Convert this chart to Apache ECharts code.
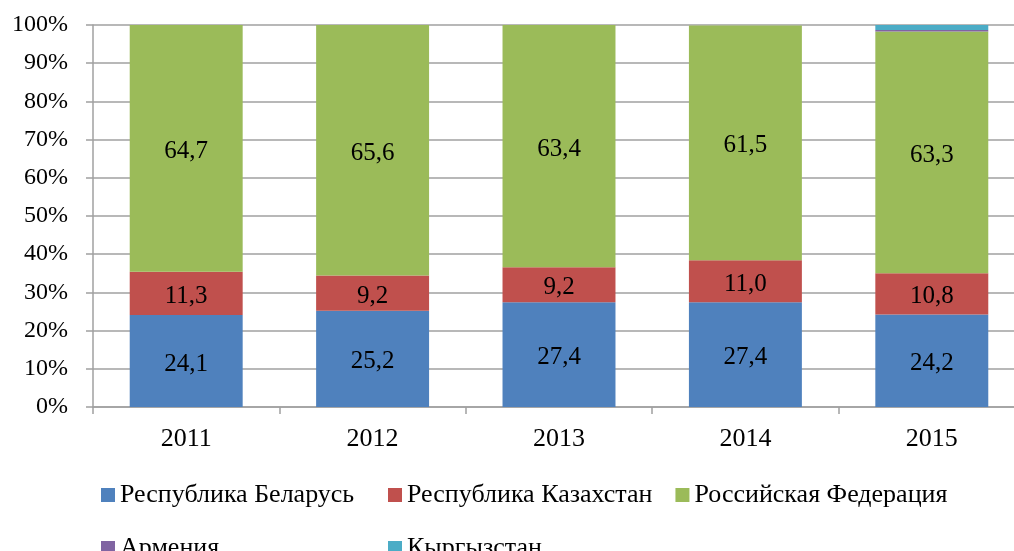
<!DOCTYPE html>
<html>
<head>
<meta charset="utf-8">
<script src="https://cdn.jsdelivr.net/npm/echarts@6/dist/echarts.min.js"></script>
<style>
    html, body {margin: 0; padding: 0; background: #fff;}
    #chart {width: 1014px; height: 551px;}
</style>
</head>
<body>
<div id="chart"></div>
<script>
const years = ['2011', '2012', '2013', '2014', '2015']
const belarus = [24.1, 25.2, 27.4, 27.4, 24.2]
const kazakhstan = [11.3, 9.2, 9.2, 11.0, 10.8]
const russia = [64.7, 65.6, 63.4, 61.5, 63.3]
const armenia = [0, 0, 0, 0, 0.4]
const kyrgyzstan = [0, 0, 0, 0, 1.3]

const seriesNames = ['Республика Беларусь', 'Республика Казахстан', 'Российская Федерация', 'Армения', 'Кыргызстан']
const colors = ['#4F81BD', '#C0504D', '#9BBB59', '#8064A2', '#4BACC6']

const font = '"Liberation Serif", "Times New Roman", serif'
const grey = '#a0a0a0'

function makeSeries(name, values, showLabel) {
    return {
        name: name,
        type: 'bar',
        stack: 'total',
        barWidth: '60.6%',
        data: values,
        label: {
            show: showLabel,
            position: 'inside',
            offset: [0, 3],
            color: '#000',
            fontFamily: font,
            fontSize: 25,
            formatter: p => p.value.toFixed(1).replace('.', ',')
        }
    }
}

const chart = echarts.init(document.getElementById('chart'))
chart.setOption({
    animation: false,
    color: colors,
    grid: {left: 93, top: 25, right: -11, height: 382, containLabel: false, outerBoundsMode: 'none'},
    legend: {
        data: seriesNames,
        left: 101,
        top: 480,
        width: 860,
        padding: 0,
        itemWidth: 14,
        itemHeight: 14,
        itemGap: 23,
        icon: 'rect',
        textStyle: {
            color: '#000',
            fontFamily: font,
            fontSize: 26,
            lineHeight: 30,
            width: 245
        }
    },
    xAxis: {
        type: 'category',
        data: years,
        axisLine: {lineStyle: {color: grey, width: 1.5}},
        axisTick: {show: true, length: 7, lineStyle: {color: grey, width: 1.5}},
        axisLabel: {color: '#000', fontFamily: font, fontSize: 26, margin: 19}
    },
    yAxis: {
        type: 'value',
        min: 0,
        max: 100,
        interval: 10,
        axisLine: {show: true, lineStyle: {color: grey, width: 1.5}},
        axisTick: {show: true, length: 7, lineStyle: {color: grey, width: 1.5}},
        splitLine: {show: true, lineStyle: {color: grey, width: 1.5}},
        axisLabel: {color: '#000', fontFamily: font, fontSize: 24, margin: 25, padding: [7, 0, 0, 0], formatter: '{value}%'}
    },
    series: [
        makeSeries(seriesNames[0], belarus, true),
        makeSeries(seriesNames[1], kazakhstan, true),
        makeSeries(seriesNames[2], russia, true),
        makeSeries(seriesNames[3], armenia, false),
        makeSeries(seriesNames[4], kyrgyzstan, false)
    ]
})
</script>
</body>
</html>
